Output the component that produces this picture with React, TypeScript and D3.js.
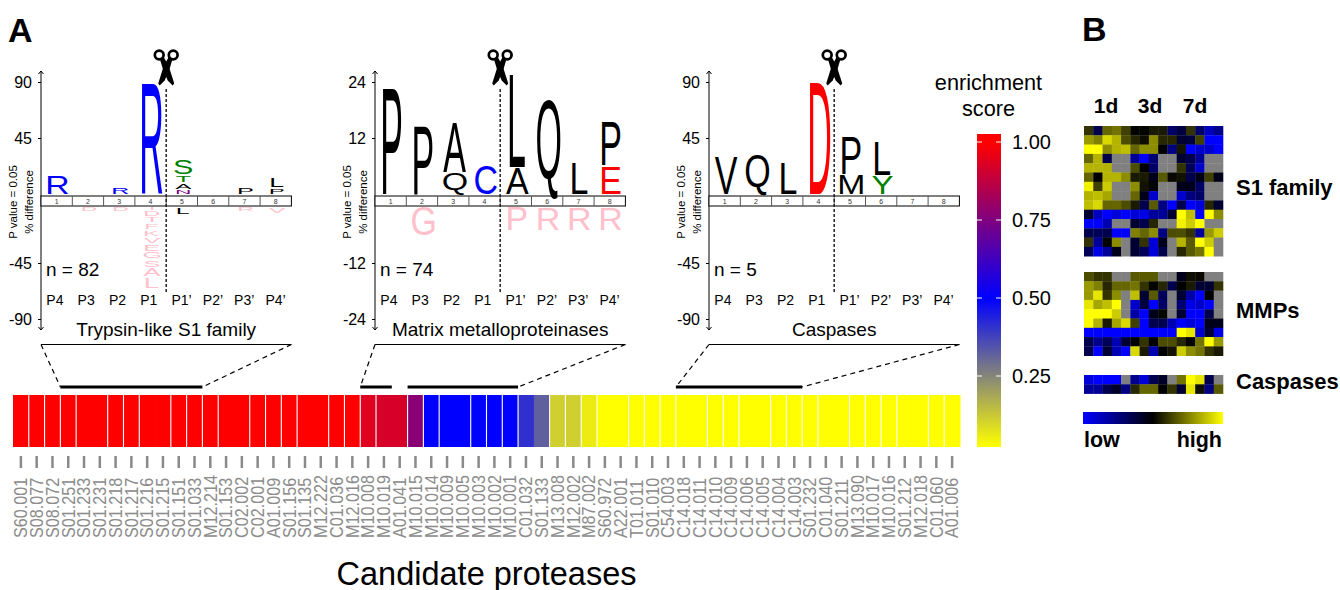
import React, { useEffect, useRef } from 'react';
import * as d3 from 'd3';

const FONT = '"Liberation Sans", Helvetica, Arial, sans-serif';

// logo letters per panel: [position, letter, % difference, optional colour]
type Glyph = [number, string, number, string?];

const s1Up: Glyph[] = [
  [1, 'R', 15], [3, 'R', 5.3], [4, 'R', 90],
  [5, 'N', 2.6], [5, 'A', 4.5], [5, 'T', 5], [5, 'S', 11.4],
  [7, 'P', 5.5], [8, 'P', 4.2], [8, 'L', 7],
];
const s1Down: Glyph[] = [
  [2, 'D', 2.6], [3, 'D', 2.6],
  [4, 'I', 2], [4, 'D', 3.5], [4, 'T', 4], [4, 'F', 4], [4, 'K', 4.5], [4, 'V', 4.5],
  [4, 'E', 5], [4, 'G', 5], [4, 'S', 5.5], [4, 'A', 6.5], [4, 'L', 8],
  [5, 'L', 5, 'black'], [7, 'R', 3], [8, 'V', 4.5],
];
const mmpUp: Glyph[] = [
  [1, 'P', 22.6], [2, 'P', 14.5], [3, 'Q', 4.4], [3, 'A', 10.4], [4, 'C', 6],
  [5, 'A', 5.5], [5, 'L', 19.8], [6, 'Q', 20.2], [7, 'L', 6.5], [8, 'E', 5.8], [8, 'P', 9.4],
];
const mmpDown: Glyph[] = [[2, 'G', 6], [5, 'P', 4.8], [6, 'R', 4.8], [7, 'R', 4.8], [8, 'R', 4.8]];
const caspUp: Glyph[] = [
  [1, 'V', 30], [2, 'Q', 32], [3, 'L', 25], [4, 'D', 90],
  [5, 'M', 15], [5, 'P', 30], [6, 'Y', 14.3], [6, 'L', 27],
];
const caspDown: Glyph[] = [];

const positions = ['P4', 'P3', 'P2', 'P1', 'P1\u2019', 'P2\u2019', 'P3\u2019', 'P4\u2019'];
const boxNumbers = [1, 2, 3, 4, 5, 6, 7, 8];

const panels = [
  { title: 'Trypsin-like S1 family', n: 'n = 82', max: 90, up: s1Up, down: s1Down, left: 41 },
  { title: 'Matrix metalloproteinases', n: 'n = 74', max: 24, up: mmpUp, down: mmpDown, left: 375 },
  { title: 'Caspases', n: 'n = 5', max: 90, up: caspUp, down: caspDown, left: 709 },
];

const proteases = [
  'S60.001', 'S08.077', 'S08.072', 'S01.251', 'S01.233', 'S01.231', 'S01.218', 'S01.217', 'S01.216', 'S01.215',
  'S01.151', 'S01.033', 'M12.214', 'S01.153', 'C02.002', 'C02.001', 'A01.009', 'S01.156', 'S01.135', 'M12.222',
  'C01.036', 'M12.016', 'M10.008', 'M10.019', 'A01.041', 'M10.015', 'M10.014', 'M10.009', 'M10.005', 'M10.003',
  'M10.002', 'M10.001', 'C01.032', 'S01.133', 'M13.008', 'M12.002', 'M87.002', 'S60.972', 'A22.001', 'T01.011',
  'S01.010', 'C54.003', 'C14.018', 'C14.011', 'C14.010', 'C14.009', 'C14.006', 'C14.005', 'C14.004', 'C14.003',
  'S01.232', 'C01.040', 'S01.211', 'M13.090', 'M10.017', 'M10.016', 'S01.212', 'M12.018', 'C01.060', 'A01.006',
];
const scores = [
  1, 1, 1, 1, 1, 1, 1, 1, 1, 1,
  1, 1, 1, 1, 1, 1, 1, 1, 1, 1,
  1, 1, 0.94, 0.92, 0.92, 0.77, 0.5, 0.5, 0.5, 0.5,
  0.5, 0.5, 0.41, 0.32, 0.11, 0.11, 0.055, 0.02, 0.02, 0.02,
  0.02, 0.02, 0.02, 0.02, 0.02, 0.02, 0.02, 0.02, 0.02, 0.02,
  0.02, 0.02, 0.02, 0.02, 0.02, 0.02, 0.02, 0.02, 0.02, 0.02,
];
// cell boundaries where the white gap is lost in the picture
const joinedCells = [5, 9, 14, 19, 24, 28, 33, 38, 43, 47, 52, 57];
const scoreTicks = [1, 0.75, 0.5, 0.25];

// brackets: first and last cell of each thick run, then the logo it zooms into
const brackets = [
  { runs: [['S01.251', 'S01.033']], panel: 0 },
  { runs: [['M10.008', 'M10.019'], ['M10.015', 'M10.001']], panel: 1 },
  { runs: [['C14.018', 'C14.003']], panel: 2 },
];

const _ = null;
const s1Heat = [
  [.2, -.3, .4, .45, .25, .02, .02, .1, .1, -.4, -.25, .2, -.4, -.75, -.55],
  [.6, .5, .85, .7, .3, .15, .05, .55, .15, .15, -.2, -.25, .25, -1, -1],
  [1, 1, .55, .7, .75, .4, .55, .55, 0, -.5, .08, -1, -.8, -.8, -1],
  [.4, .7, -.3, _, _, -.6, -1, -.45, _, _, -.2, -.3, -.6, _, _],
  [.7, .7, .7, _, _, .3, 0, -.4, _, _, .2, -.35, -.8, _, _],
  [.4, 0, .7, .7, .55, .1, .1, -.1, .35, .03, .07, -.3, -.1, .25, -.1],
  [.95, .25, .8, _, _, .55, .07, .02, _, _, -.1, -.1, -.4, _, _],
  [.7, .75, .65, _, _, .4, -.1, -.8, _, _, -.8, -.5, -.4, _, _],
  [.75, .85, .4, .4, .3, .1, -.3, .35, -.5, -1, -.3, -1, -.85, .15, -.2],
  [-.2, -.75, -1, -.85, -1, -.85, -.9, -.6, -.6, -.2, 1, .75, -1, 1, .55],
  [-1, -1, -.7, _, _, -.2, -.3, .15, _, _, .95, .8, 1, _, _],
  [-.3, -.35, -.3, -1, -1, .5, .4, .55, -.5, .3, .3, .2, -.6, .6, .8],
  [.2, -.6, .02, .55, _, -.2, .2, -.85, -.1, _, .7, .35, 1, .8, _],
  [-.35, -.9, -.6, -.1, _, -.2, -.35, -.85, -.3, _, .15, .35, .45, 1, _],
];
const mmpHeat = [
  [.3, .2, .2, _, _, .35, .35, .35, _, _, -.1, .05, .03, _, _],
  [.6, .5, .15, .4, .4, .45, .2, .02, .15, -.3, 0, .1, -.2, -.2, .2],
  [.6, .9, .2, .55, _, .75, -.2, .35, -.35, _, -.2, -.65, -1, 0, _],
  [.9, .65, .75, 1, _, -.8, -.25, -1, -.4, _, -.45, -.9, -.8, -1, _],
  [1, 1, 1, .8, _, -.65, -1, -.1, .02, _, -.2, -1, -1, -.3, _],
  [1, .7, .1, .65, .85, .25, -1, -.3, -.3, -.7, -1, -.85, -1, -.1, -.1],
  [-1, -1, -1, -1, -1, -1, -1, -1, -1, -1, 1, .9, -.8, -.2, -.9],
  [-.3, -.55, -.35, -.7, -.2, 0, .2, -.02, .3, .3, .15, .02, .45, 1, .6],
  [-.3, -1, -.2, -.7, -1, .85, .1, -.7, 0, .08, .8, .55, .45, .2, .1],
];
const caspHeat = [
  [-.85, -1, -1, -1, _, -.55, -.85, -.3, -.15, _, .45, 1, .9, -.3, _],
  [-.6, -.6, -.3, -.15, -.5, .15, .4, .4, 0, .2, -.2, .9, .05, -.5, .35],
];
const heatGroups = [
  { label: 'S1 family', rows: s1Heat, top: 126, labelY: 195 },
  { label: 'MMPs', rows: mmpHeat, top: 272, labelY: 318 },
  { label: 'Caspases', rows: caspHeat, top: 375, labelY: 389 },
];
const dayLabels = [['1d', 1106], ['3d', 1150], ['7d', 1195]];

const letterColor: Record<string, string> = {
  R: '#0000ff', C: '#0000ff', D: '#ff0000', E: '#ff0000',
  S: '#008000', T: '#008000', Y: '#008000', N: '#800080',
};
const PINK = '#ffc0cb';

const App = () => {
  const ref = useRef<SVGSVGElement>(null);

  useEffect(() => {
    const svg = d3.select(ref.current);
    svg.selectAll('*').remove();
    svg.attr('font-family', FONT);
    const defs = svg.append('defs');

    const ctx = document.createElement('canvas').getContext('2d')!;
    ctx.font = `100px ${FONT}`;

    // stretch one letter so its cap sits exactly on the slot
    const drawLetter = (g: any, ch: string, cx: number, base: number, h: number, fill: string) => {
      const m = ctx.measureText(ch);
      const narrow = d3.scaleLinear().domain([0, 19]).range([0.6, 1]).clamp(true)(h);
      const sx = 0.34 * narrow;
      let sy = h / m.actualBoundingBoxAscent;
      let y = base;
      if (ch === 'Q') {
        // the tail only reaches a little under the slot
        const desc = m.actualBoundingBoxDescent;
        sy = (h * 1.05) / (m.actualBoundingBoxAscent + desc);
        y = base + h * 0.05 - desc * sy;
      }
      g.append('text')
        .attr('transform', `translate(${cx},${y}) scale(${sx},${sy})`)
        .attr('x', -(m.actualBoundingBoxRight - m.actualBoundingBoxLeft) / 2)
        .attr('font-size', 100)
        .attr('fill', fill)
        .text(ch);
    };

    const cellW = 31.3;
    const gap = 1.5;

    panels.forEach((p) => {
      const g = svg.append('g').attr('transform', `translate(${p.left},0)`);
      const boxW = cellW * 8;
      const mid = cellW * 4;

      const yAxis = d3.scaleLinear()
        .domain([p.max, p.max / 2, -p.max / 2, -p.max])
        .range([82, 138, 263, 319]);
      const yUp = d3.scaleLinear().domain([0, p.max]).range([194, 82]);
      const yDown = d3.scaleLinear().domain([0, p.max]).range([207.5, 319]);
      const x = d3.scaleBand<number>().domain(boxNumbers).range([0, boxW]);

      // axis with arrow ends
      const axis = g.append('g').call(
        d3.axisLeft(yAxis).tickValues([p.max, p.max / 2, -p.max / 2, -p.max])
          .tickSize(3).tickPadding(6).tickFormat((d: any) => String(d)) as any
      );
      axis.select('.domain').remove();
      axis.attr('font-family', FONT).attr('font-size', 16);
      axis.selectAll('line').attr('stroke', '#000');
      g.append('line').attr('y1', 71).attr('y2', 330).attr('stroke', '#000');
      g.append('path').attr('d', 'M-2.5,74 L0,71 L2.5,74 M-2.5,327 L0,330 L2.5,327').attr('fill', 'none').attr('stroke', '#000');

      [['P value = 0.05', -24], ['% difference', -8]].forEach(([t, dx]) => {
        g.append('text')
          .attr('transform', `translate(${dx},202) rotate(-90)`)
          .attr('text-anchor', 'middle')
          .attr('font-size', 11.5)
          .text(t as string);
      });

      // numbered strip between the two halves
      g.append('rect').attr('y', 196).attr('width', boxW).attr('height', 10).attr('fill', '#fff').attr('stroke', '#000');
      boxNumbers.forEach((n) => {
        if (n > 1) {
          g.append('line').attr('x1', x(n)!).attr('x2', x(n)!).attr('y1', 196).attr('y2', 206).attr('stroke', '#555');
        }
        g.append('text')
          .attr('x', x(n)! + x.bandwidth() / 2)
          .attr('y', 204)
          .attr('text-anchor', 'middle')
          .attr('font-size', 7)
          .attr('fill', '#333')
          .text(n);
      });

      // logo stacks, up from the strip and down from it
      boxNumbers.forEach((n) => {
        const cx = x(n)! + x.bandwidth() / 2 + 1.5;
        let yTop = yUp(0);
        p.up.filter((d) => d[0] === n).forEach((d) => {
          const h = yUp(0) - yUp(d[2]);
          drawLetter(g, d[1], cx, yTop, h, d[3] || letterColor[d[1]] || '#000');
          yTop -= h + gap;
        });
        let yBot = yDown(0);
        p.down.filter((d) => d[0] === n).forEach((d) => {
          const h = yDown(d[2]) - yDown(0);
          drawLetter(g, d[1], cx, yBot + h, h, d[3] || PINK);
          yBot += h + gap;
        });
      });

      // cleavage site and scissors
      g.append('line')
        .attr('x1', mid).attr('x2', mid).attr('y1', 89).attr('y2', 293)
        .attr('stroke', '#222').attr('stroke-width', 1.5).attr('stroke-dasharray', '3,2');
      const sc = g.append('g').attr('transform', `translate(${mid},67)`);
      [-1, 1].forEach((s) => {
        sc.append('circle').attr('cx', s * 7).attr('cy', -12).attr('r', 4.4)
          .attr('fill', 'none').attr('stroke', '#000').attr('stroke-width', 2.7);
        sc.append('path')
          .attr('transform', `scale(${s},1)`)
          .attr('d', 'M-6.5,-8.5 L-2.5,-10 L2.5,-1 L8,16.5 L6.5,18.5 L1.5,13.5 L-3,3 Z')
          .attr('fill', '#000');
      });

      positions.forEach((t, i) => {
        g.append('text').attr('x', x(boxNumbers[i])! + 5.3).attr('y', 305).attr('font-size', 14).text(t);
      });
      g.append('text').attr('x', 5).attr('y', 276).attr('font-size', 19).text(p.n);
      g.append('text').attr('x', mid).attr('y', 336).attr('text-anchor', 'middle').attr('font-size', 19).text(p.title);
    });

    // enrichment score colours
    const scoreColor = d3.scaleLinear<string>()
      .domain([0.02, 0.5, 1])
      .range(['#ffff00', '#0000ff', '#ff0000'])
      .clamp(true);

    const xCell = d3.scaleBand<string>().domain(proteases).range([13, 960]);
    const barG = svg.append('g');
    proteases.forEach((name, i) => {
      barG.append('rect')
        .attr('x', xCell(name)!).attr('y', 395)
        .attr('width', xCell.bandwidth() + 0.5).attr('height', 52)
        .attr('fill', scoreColor(scores[i]));
    });
    proteases.forEach((name, i) => {
      if (i > 0 && !joinedCells.includes(i)) {
        barG.append('line')
          .attr('x1', xCell(name)!).attr('x2', xCell(name)!)
          .attr('y1', 395).attr('y2', 447)
          .attr('stroke', '#fff').attr('stroke-width', 1.1);
      }
      const cx = xCell(name)! + xCell.bandwidth() / 2;
      barG.append('line')
        .attr('x1', cx).attr('x2', cx).attr('y1', 456).attr('y2', 468)
        .attr('stroke', '#8a8a8a').attr('stroke-width', 2.5);
      barG.append('text')
        .attr('transform', `translate(${cx + 6.3},538) rotate(-90) scale(0.9,1)`)
        .attr('font-size', 18)
        .attr('fill', '#8c8c8c')
        .text(name);
    });

    // brackets from the bar up to each logo
    brackets.forEach((b) => {
      const left = panels[b.panel].left;
      const right = left + cellW * 8;
      const first = xCell(b.runs[0][0])!;
      const lastRun = b.runs[b.runs.length - 1];
      const last = xCell(lastRun[1])! + xCell.bandwidth();
      svg.append('line').attr('x1', left).attr('x2', right).attr('y1', 344.5).attr('y2', 344.5).attr('stroke', '#000').attr('stroke-width', 1.2);
      [[left, first], [right, last]].forEach(([top, bottom]) => {
        svg.append('line')
          .attr('x1', top).attr('y1', 344.5).attr('x2', bottom).attr('y2', 387)
          .attr('stroke', '#000').attr('stroke-width', 1.2).attr('stroke-dasharray', '5,4');
      });
      b.runs.forEach((run) => {
        svg.append('line')
          .attr('x1', xCell(run[0])!).attr('x2', xCell(run[1])! + xCell.bandwidth())
          .attr('y1', 387).attr('y2', 387)
          .attr('stroke', '#000').attr('stroke-width', 3);
      });
    });

    // colour key
    const yScore = d3.scaleLinear().domain([1, 0.25]).range([142, 376]);
    const keyTop = 134;
    const keyBottom = 447;
    const keyGrad = defs.append('linearGradient')
      .attr('id', 'scoreKey').attr('gradientUnits', 'userSpaceOnUse')
      .attr('x1', 0).attr('x2', 0).attr('y1', keyTop).attr('y2', keyBottom);
    [1, 0.5, 0.02].forEach((s) => {
      keyGrad.append('stop')
        .attr('offset', (yScore(s) - keyTop) / (keyBottom - keyTop))
        .attr('stop-color', scoreColor(s));
    });
    svg.append('rect').attr('x', 977).attr('y', keyTop).attr('width', 24).attr('height', keyBottom - keyTop).attr('fill', 'url(#scoreKey)');
    scoreTicks.forEach((s) => {
      [[977, 982], [996, 1001]].forEach(([a, b]) => {
        svg.append('line').attr('x1', a).attr('x2', b).attr('y1', yScore(s)).attr('y2', yScore(s)).attr('stroke', '#fff');
      });
      svg.append('text').attr('x', 1012).attr('y', yScore(s) + 7).attr('font-size', 20).text(d3.format('.2f')(s));
    });
    svg.append('text').attr('x', 988.5).attr('y', 90).attr('text-anchor', 'middle').attr('font-size', 21.7).text('enrichment');
    svg.append('text').attr('x', 988.5).attr('y', 116).attr('text-anchor', 'middle').attr('font-size', 21.7).text('score');

    svg.append('text').attr('x', 486.5).attr('y', 585).attr('text-anchor', 'middle').attr('font-size', 32.5).text('Candidate proteases');
    svg.append('text').attr('x', 8).attr('y', 42).attr('font-size', 34).attr('font-weight', 'bold').text('A');
    svg.append('text').attr('x', 1082).attr('y', 41).attr('font-size', 34).attr('font-weight', 'bold').text('B');

    // heat maps
    const heatColor = d3.scaleLinear<string>().domain([-1, 0, 1]).range(['#0000ff', '#000000', '#ffff00']);
    const xHeat = d3.scaleBand<number>().domain(d3.range(15)).range([1084, 1223]);
    heatGroups.forEach((h) => {
      const yHeat = d3.scaleBand<number>()
        .domain(d3.range(h.rows.length))
        .range([h.top, h.top + h.rows.length * 9.3]);
      h.rows.forEach((row, r) => {
        row.forEach((v, c) => {
          svg.append('rect')
            .attr('x', xHeat(c)!).attr('y', yHeat(r)!)
            .attr('width', xHeat.bandwidth() + 0.3).attr('height', yHeat.bandwidth() + 0.3)
            .attr('fill', v === null ? '#808080' : heatColor(v));
        });
      });
      svg.append('text').attr('x', 1236).attr('y', h.labelY).attr('font-size', 22).attr('font-weight', 'bold').text(h.label);
    });
    dayLabels.forEach(([t, x]) => {
      svg.append('text').attr('x', x).attr('y', 113).attr('text-anchor', 'middle').attr('font-size', 21).attr('font-weight', 'bold').text(t as string);
    });

    const lowHigh = defs.append('linearGradient').attr('id', 'lowHigh');
    [[0, '#0000ff'], [0.5, '#000000'], [1, '#ffff00']].forEach(([o, c]) => {
      lowHigh.append('stop').attr('offset', o).attr('stop-color', c);
    });
    svg.append('rect').attr('x', 1083).attr('y', 412).attr('width', 140).attr('height', 12).attr('fill', 'url(#lowHigh)');
    svg.append('text').attr('x', 1084).attr('y', 447).attr('font-size', 21.5).attr('font-weight', 'bold').text('low');
    svg.append('text').attr('x', 1222).attr('y', 447).attr('text-anchor', 'end').attr('font-size', 21.5).attr('font-weight', 'bold').text('high');
  }, []);

  return (
    <svg
      ref={ref}
      width={1340}
      height={590}
      style={{ position: 'absolute', left: 0, top: 0, display: 'block', background: '#fff' }}
    />
  );
};

export default App;
